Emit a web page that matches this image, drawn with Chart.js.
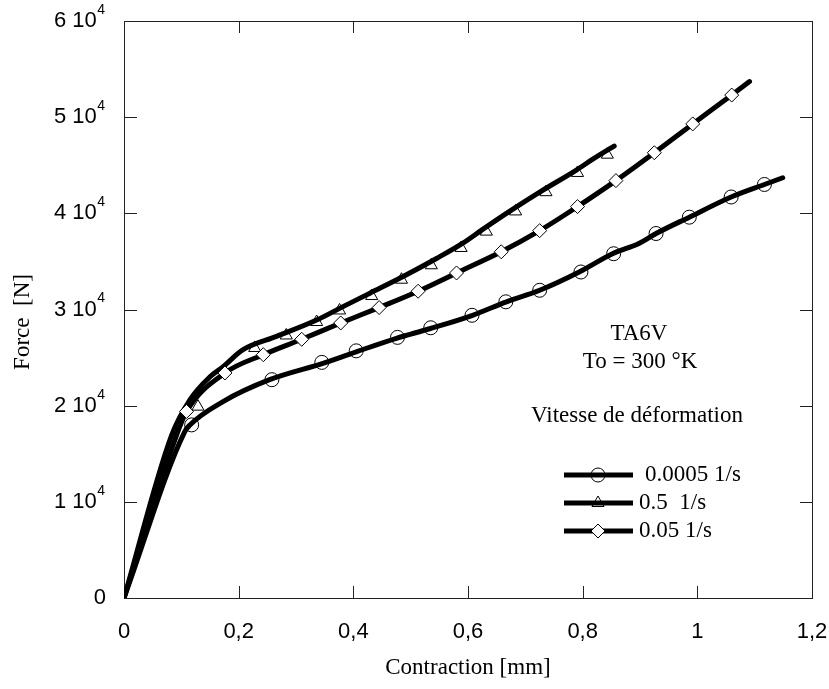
<!DOCTYPE html>
<html>
<head>
<meta charset="utf-8">
<script src="https://cdn.jsdelivr.net/npm/chart.js@4/dist/chart.umd.min.js"></script>
<style>
  html, body { margin: 0; padding: 0; background: #fff; }
  #wrap { width: 829px; height: 689px; }
</style>
</head>
<body>
<div id="wrap"><canvas id="myChart" width="829" height="689"></canvas></div>
<script>
// ticks
const xTicks = [0, 0.2, 0.4, 0.6, 0.8, 1, 1.2];
const xTickLabels = ["0", "0,2", "0,4", "0,6", "0,8", "1", "1,2"];
const yTicks = [0, 10000, 20000, 30000, 40000, 50000, 60000];
const yTickMant = ["0", "1", "2", "3", "4", "5", "6"];

// 0.0005 1/s  (circles)
const slowX = [0, 0.106, 0.115, 0.172, 0.254, 0.347, 0.405, 0.475, 0.533, 0.608, 0.667, 0.725, 0.794, 0.852, 0.899, 0.928, 0.986, 1.059, 1.117, 1.149];
const slowY = [0, 17300, 18000, 20400, 22700, 24400, 25600, 27000, 28000, 29400, 30800, 32000, 33900, 35800, 36900, 37900, 39600, 41700, 43000, 43700];
const slowMarkX = [0.118, 0.258, 0.345, 0.405, 0.477, 0.535, 0.607, 0.666, 0.725, 0.797, 0.854, 0.928, 0.986, 1.059, 1.117];
const slowMarkY = [18000, 22700, 24500, 25700, 27100, 28100, 29400, 30800, 32000, 33900, 35800, 37900, 39600, 41700, 43000];

// 0.5 1/s  (triangles)
const fastX = [0, 0.083, 0.115, 0.15, 0.172, 0.207, 0.266, 0.336, 0.382, 0.429, 0.486, 0.545, 0.591, 0.625, 0.675, 0.725, 0.789, 0.817, 0.855];
const fastY = [0, 16900, 20600, 23000, 24000, 25800, 27200, 28900, 30300, 31700, 33400, 35300, 36900, 38300, 40300, 42200, 44500, 45600, 47000];
const fastMarkX = [0.129, 0.228, 0.283, 0.336, 0.376, 0.432, 0.484, 0.536, 0.588, 0.632, 0.683, 0.736, 0.791, 0.843];
const fastMarkY = [19900, 26000, 27300, 28700, 29900, 31400, 33100, 34600, 36400, 38100, 40200, 42200, 44200, 46100];

// 0.05 1/s  (diamonds)
const midX = [0, 0.092, 0.109, 0.176, 0.243, 0.31, 0.378, 0.445, 0.513, 0.58, 0.658, 0.725, 0.791, 0.858, 0.925, 0.992, 1.06, 1.091];
const midY = [0, 17000, 19400, 23400, 25300, 26900, 28600, 30200, 31900, 33800, 36000, 38200, 40700, 43400, 46300, 49300, 52300, 53700];
const midMarkX = [0.109, 0.176, 0.243, 0.31, 0.378, 0.445, 0.513, 0.58, 0.658, 0.725, 0.791, 0.858, 0.925, 0.992, 1.06];
const midMarkY = [19400, 23400, 25300, 26900, 28600, 30200, 31900, 33800, 36000, 38200, 40700, 43400, 46300, 49300, 52300];

const legendNames = ["0.0005 1/s", "0.5  1/s", "0.05 1/s"];

function pts(xs, ys) {
  return xs.map((x, i) => ({ x: x, y: ys[i] }));
}

function lineSet(xs, ys) {
  return {
    data: pts(xs, ys),
    showLine: true,
    borderColor: "#000",
    borderWidth: 5,
    pointRadius: 0,
    fill: false,
    cubicInterpolationMode: "monotone",
    borderCapStyle: "round",
    borderJoinStyle: "round",
    order: 3
  };
}

function markSet(xs, ys, style, fill, order) {
  return {
    data: pts(xs, ys),
    showLine: false,
    pointStyle: style,
    pointRadius: 7,
    pointBorderWidth: 1,
    pointBorderColor: "#000",
    pointBackgroundColor: fill,
    order: order
  };
}

const serif = "'Liberation Serif', 'Times New Roman', serif";
const sans = "'Liberation Sans', Arial, sans-serif";

// frame, ticks, labels, legend and notes
const decorations = {
  id: "decorations",
  beforeDatasetsDraw(chart) {
    const ctx = chart.ctx;
    const a = chart.chartArea;
    const xs = chart.scales.x, ys = chart.scales.y;
    ctx.save();
    ctx.strokeStyle = "#222";
    ctx.lineWidth = 1;
    ctx.strokeRect(a.left + 0.5, a.top + 0.5, a.right - a.left, a.bottom - a.top);
    ctx.beginPath();
    yTicks.forEach(v => {
      const y = Math.round(ys.getPixelForValue(v)) + 0.5;
      ctx.moveTo(a.left, y); ctx.lineTo(a.left + 13, y);
      ctx.moveTo(a.right, y); ctx.lineTo(a.right - 12, y);
    });
    xTicks.forEach(v => {
      const x = Math.round(xs.getPixelForValue(v)) + 0.5;
      ctx.moveTo(x, a.bottom); ctx.lineTo(x, a.bottom - 12);
      ctx.moveTo(x, a.top); ctx.lineTo(x, a.top + 12);
    });
    ctx.stroke();
    ctx.restore();
  },
  afterDraw(chart) {
    const ctx = chart.ctx;
    const a = chart.chartArea;
    const xs = chart.scales.x, ys = chart.scales.y;
    ctx.save();
    ctx.fillStyle = "#000";

    // x tick labels
    ctx.font = "22px " + sans;
    ctx.textAlign = "center";
    ctx.textBaseline = "middle";
    xTicks.forEach((v, i) => {
      ctx.fillText(xTickLabels[i], xs.getPixelForValue(v), 632);
    });

    // y tick labels, "n 10^4"
    const rightEdge = 105;
    yTicks.forEach((v, i) => {
      const y = ys.getPixelForValue(v);
      ctx.textBaseline = "middle";
      if (v === 0) {
        ctx.font = "22px " + sans;
        ctx.textAlign = "right";
        ctx.fillText("0", rightEdge + 1, y);
        return;
      }
      ctx.font = "14px " + sans;
      const sw = ctx.measureText("4").width;
      ctx.textAlign = "left";
      ctx.fillText("4", rightEdge - sw, y - 11);
      ctx.font = "22px " + sans;
      ctx.textAlign = "right";
      ctx.fillText(yTickMant[i] + " 10", rightEdge - sw - 0.5, y);
    });

    // axis titles
    ctx.font = "23px " + serif;
    ctx.textAlign = "center";
    ctx.textBaseline = "middle";
    ctx.fillText("Contraction [mm]", (a.left + a.right) / 2, 668);
    ctx.save();
    ctx.translate(23, 322);
    ctx.rotate(-Math.PI / 2);
    ctx.fillText("Force  [N]", 0, 0);
    ctx.restore();

    // notes
    ctx.fillText("TA6V", 639, 334);
    ctx.fillText("To = 300 \u00b0K", 640, 362);
    ctx.fillText("Vitesse de d\u00e9formation", 637, 416);

    // legend
    const rows = [475, 503, 531];
    const styles = [
      { pointStyle: "circle", fill: "rgba(0,0,0,0)", under: false, tx: 645 },
      { pointStyle: "triangle", fill: "#fff", under: true, tx: 639 },
      { pointStyle: "rectRot", fill: "#fff", under: false, tx: 639 }
    ];
    rows.forEach((y, i) => {
      const s = styles[i];
      const mark = () => {
        ctx.fillStyle = s.fill;
        ctx.strokeStyle = "#000";
        ctx.lineWidth = 1;
        Chart.helpers.drawPoint(ctx, { pointStyle: s.pointStyle, radius: 7, borderWidth: 1, rotation: 0 }, 598, y);
      };
      if (s.under) mark();
      ctx.strokeStyle = "#000";
      ctx.lineWidth = 5;
      ctx.beginPath();
      ctx.moveTo(564, y); ctx.lineTo(633, y);
      ctx.stroke();
      if (!s.under) mark();
      ctx.fillStyle = "#000";
      ctx.font = "23px " + serif;
      ctx.textAlign = "left";
      ctx.textBaseline = "middle";
      ctx.fillText(legendNames[i], s.tx, y);
    });
    ctx.restore();
  }
};

new Chart(document.getElementById("myChart").getContext("2d"), {
  type: "scatter",
  data: {
    datasets: [
      markSet(fastMarkX, fastMarkY, "triangle", "#fff", 5),
      lineSet(slowX, slowY),
      lineSet(fastX, fastY),
      lineSet(midX, midY),
      markSet(slowMarkX, slowMarkY, "circle", "rgba(0,0,0,0)", 1),
      markSet(midMarkX, midMarkY, "rectRot", "#fff", 1)
    ]
  },
  options: {
    responsive: false,
    animation: false,
    devicePixelRatio: 1,
    layout: { padding: { top: 21, right: 17, left: 0, bottom: 0 } },
    plugins: { legend: { display: false }, tooltip: { enabled: false } },
    scales: {
      x: {
        type: "linear", min: 0, max: 1.2,
        grid: { display: false }, border: { display: false },
        ticks: { display: false },
        afterFit: s => { s.height = 91; }
      },
      y: {
        type: "linear", min: 0, max: 60000,
        grid: { display: false }, border: { display: false },
        ticks: { display: false },
        afterFit: s => { s.width = 124; }
      }
    }
  },
  plugins: [decorations]
});
</script>
</body>
</html>
